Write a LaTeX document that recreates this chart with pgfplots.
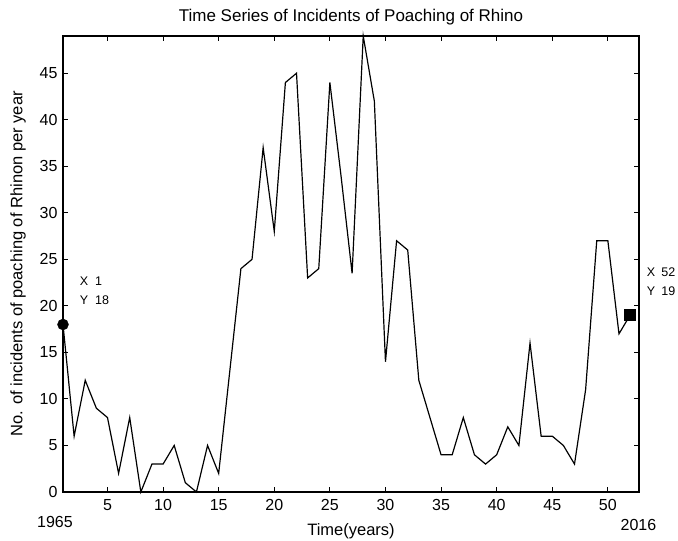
\documentclass[border=0pt]{standalone}
\usepackage{pgfplots}
\pgfplotsset{compat=1.18}
\usepackage{fontspec}
\setmainfont{Liberation Sans}
\begin{document}
\fontsize{16bp}{19bp}\selectfont
\begin{tikzpicture}
	\path[use as bounding box] (-63bp,-49bp) rectangle (615bp,492bp);
	\begin{axis}[
			at={(0,0)}, anchor=south west,
			scale only axis,
			width=576bp,
			height=456bp,
			xmin=1, xmax=52.8,
			ymin=0, ymax=49,
			xtick={5,10,...,50},
			ytick={0,5,...,45},
			tick align=inside,
			major tick length=5bp,
			axis line style={line width=1.2pt},
			tick style={line width=0.9pt, black},
			/pgf/number format/assume math mode=true,
			tick label style={font=\fontsize{16bp}{19bp}\selectfont},
			xticklabel style={yshift=-2bp},
			title={Time Series of Incidents of Poaching of Rhino},
			title style={font=\fontsize{17bp}{20bp}\selectfont, yshift=-1bp},
			xlabel={Time(years)},
			ylabel={No. of incidents of poaching of Rhinon per year},
			label style={font=\fontsize{16.5bp}{19bp}\selectfont},
			xlabel style={yshift=-2bp},
			ylabel style={yshift=3bp},
			clip=false,
		]

		\addplot[black, line width=1.2pt] coordinates {
				(1,18) (2,6) (3,12) (4,9) (5,8) (6,2) (7,8) (8,0) (9,3) (10,3)
				(11,5) (12,1) (13,0) (14,5) (15,2) (16,13) (17,24) (18,25) (19,37) (20,28)
				(21,44) (22,45) (23,23) (24,24) (25,44) (26,34) (27,23.5) (28,49) (29,42) (30,14)
				(31,27) (32,26) (33,12) (34,8) (35,4) (36,4) (37,8) (38,4) (39,3) (40,4)
				(41,7) (42,5) (43,16) (44,6) (45,6) (46,5) (47,3) (48,11) (49,27) (50,27)
				(51,17) (52,19)
			};

		% data cursors
		\addplot[only marks, mark=*, mark size=5.5bp, black] coordinates {(1,18)};
		\addplot[only marks, mark=square*, mark size=5.5bp, black] coordinates {(52,19)};

		\node[anchor=west, font=\fontsize{12.5bp}{15bp}\selectfont, inner sep=0pt] at (axis cs:2.5,22.6) {X\hspace{7bp}1};
		\node[anchor=west, font=\fontsize{12.5bp}{15bp}\selectfont, inner sep=0pt] at (axis cs:2.5,20.6) {Y\hspace{7bp}18};
		\node[anchor=west, font=\fontsize{12.5bp}{15bp}\selectfont, inner sep=0pt] at (axis cs:53.5,23.6) {X\hspace{6bp}52};
		\node[anchor=west, font=\fontsize{12.5bp}{15bp}\selectfont, inner sep=0pt] at (axis cs:53.5,21.6) {Y\hspace{6bp}19};

		\node at (axis cs:0.28,-3.2) {1965};
		\node at (axis cs:52.75,-3.5) {2016};
	\end{axis}
\end{tikzpicture}
\end{document}
